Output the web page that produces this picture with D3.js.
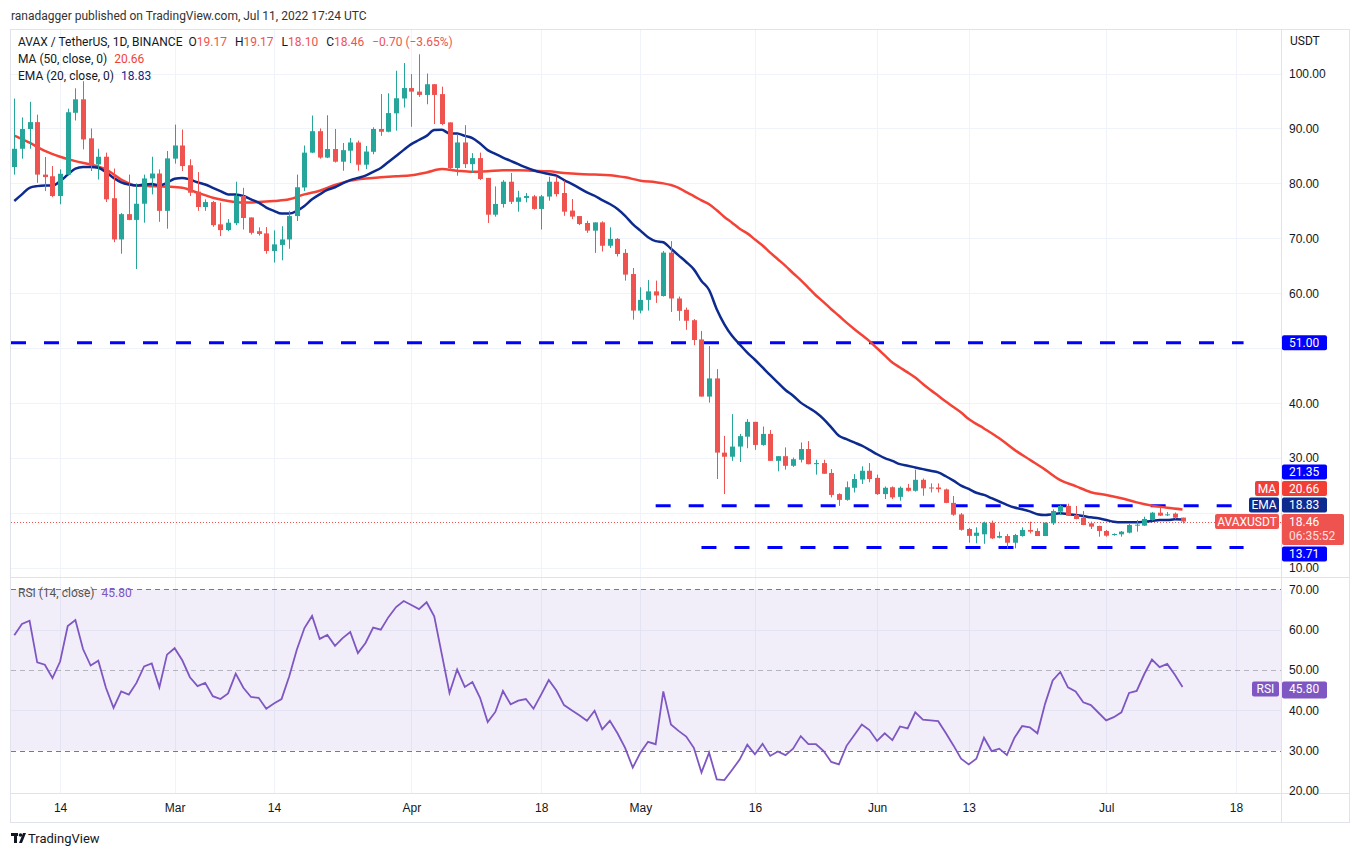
<!DOCTYPE html>
<html>
<head>
<meta charset="utf-8">
<script src="https://cdn.jsdelivr.net/npm/d3@7"></script>
<style>
body { margin: 0; background: #fff; }
svg { display: block; font-family: Roboto, "Liberation Sans", sans-serif; }
</style>
</head>
<body>
<svg id="chart" width="1359" height="856"></svg>
<script>
// daily candles AVAX/USDT, Feb 8 .. Jul 11 2022
var dates = d3.utcDay.range(new Date(Date.UTC(2022, 1, 8)), new Date(Date.UTC(2022, 6, 12)));

var open = [82.97,86.3,89.9,91.15,81.6,81.3,77.7,81.6,92.85,95.3,
88.2,83.45,84.85,77.3,69.8,74.4,73.35,76.3,80.9,81.8,
75.0,84.5,86.9,83.3,78.5,75.7,76.6,72.55,71.5,72.75,
77.7,73.8,71.3,70.9,67.7,68.8,69.8,74.05,79.25,85.6,
89.5,84.7,86.25,83.95,85.95,87.45,83.4,85.75,89.9,89.4,
92.75,95.45,97.35,96.7,96.1,98.05,96.25,91.1,82.8,87.45,
83.5,84.6,81.0,74.3,76.25,80.3,76.65,77.35,77.65,75.35,
77.6,80.3,78.25,75.05,74.05,72.8,71.4,72.9,68.65,69.9,
67.35,63.5,56.85,58.8,60.35,59.5,67.4,59.05,57.0,55.1,
51.6,41.2,44.5,31.0,30.25,32.1,33.9,36.6,32.4,34.4,
29.5,30.35,28.6,29.7,31.65,28.9,29.1,27.3,23.45,22.4,
24.6,26.1,27.7,26.4,23.45,24.7,22.95,24.6,24.05,26.05,
24.65,24.65,24.3,21.85,19.75,17.1,15.85,16.13,18.25,15.52,
15.82,14.6,15.82,16.92,16.74,15.82,18.13,20.25,21.3,19.65,
19.16,18.13,17.65,16.74,16.0,16.13,16.43,17.71,17.71,18.74,
20.07,19.65,19.9,19.17];

var high = [95.45,92.0,94.85,92.5,84.8,83.15,82.55,93.6,97.3,98.6,
90.0,86.3,85.6,82.7,74.6,81.6,80.0,81.6,84.85,82.55,
85.9,90.7,89.8,84.4,82.05,77.1,76.8,76.5,73.5,80.3,
79.2,73.8,72.0,72.05,71.45,72.2,75.0,81.6,86.9,92.35,
90.0,92.4,89.9,87.35,88.25,87.8,86.8,90.2,96.25,96.4,
100.5,101.9,99.9,103.5,100.0,98.05,97.6,91.1,89.0,90.6,
85.5,85.6,81.0,79.45,80.6,81.9,78.65,78.25,77.9,77.9,
81.2,81.25,80.5,77.15,74.05,73.2,72.9,73.1,72.0,70.05,
68.05,64.6,61.1,62.4,62.3,67.7,69.5,59.4,57.4,55.3,
53.15,50.4,46.2,34.05,38.0,34.4,37.1,36.6,35.75,35.1,
30.35,31.95,30.1,32.85,33.1,29.7,29.7,28.0,23.6,25.75,
27.1,28.5,29.1,27.0,24.85,24.85,24.85,25.3,27.9,26.3,
25.4,25.4,24.45,23.1,20.0,17.3,17.4,18.44,18.62,16.62,
16.2,16.2,17.4,18.44,17.22,18.3,20.67,21.5,21.7,21.3,
20.37,18.44,17.7,16.92,16.31,16.74,18.0,18.74,19.34,20.2,
21.0,20.2,20.1,19.17];

var low = [81.6,84.5,86.3,80.1,78.6,77.5,76.2,81.45,91.45,86.2,
82.25,80.7,76.6,69.3,67.2,73.3,64.4,72.85,78.0,73.0,
71.75,83.6,82.25,77.7,75.0,75.0,72.1,70.4,71.3,72.4,
71.6,70.7,70.5,67.2,65.6,66.0,68.1,73.15,78.6,85.5,
84.5,84.6,83.8,82.3,83.7,82.3,82.6,85.3,88.65,89.3,
89.6,93.8,90.3,95.75,94.4,90.8,90.6,82.4,81.4,82.8,
81.9,80.6,72.8,73.95,75.6,76.25,74.85,76.55,75.2,71.6,
76.85,77.6,74.1,73.5,72.4,71.0,67.35,67.6,68.25,66.7,
62.3,55.2,56.35,56.85,58.25,59.4,56.6,55.0,53.35,50.55,
41.2,40.1,26.2,23.45,29.5,29.3,31.8,31.5,32.25,29.5,
27.6,27.9,28.4,29.2,28.85,27.0,27.15,22.85,21.3,22.25,
23.75,25.3,25.6,23.3,22.55,22.55,22.25,23.9,23.9,23.15,
23.75,23.75,21.8,19.5,16.8,14.6,14.5,14.4,15.28,15.4,
13.58,13.58,15.7,16.31,15.82,15.8,17.83,19.65,19.46,18.86,
17.8,17.1,15.7,15.7,15.88,15.7,16.31,16.62,17.65,18.62,
19.46,19.46,18.9,18.10];

var close = [86.3,89.9,91.15,81.6,81.15,77.7,81.75,92.95,95.3,88.0,
83.3,84.85,77.1,69.8,74.4,73.35,76.3,80.9,81.8,75.0,
84.55,86.9,83.15,78.3,75.7,76.6,72.4,71.5,72.85,77.7,
73.7,71.0,70.8,67.7,68.9,69.8,74.05,79.3,85.6,89.5,
84.7,86.25,83.95,86.05,87.45,83.4,85.8,89.9,89.4,92.8,
95.5,97.35,96.7,96.1,98.05,96.1,90.8,82.8,87.45,83.5,
84.6,80.8,74.3,76.25,80.3,76.65,77.45,77.7,75.35,77.65,
80.3,78.05,74.85,73.95,72.6,71.4,72.9,68.65,69.9,67.15,
63.4,56.85,58.8,60.35,59.6,67.4,59.05,56.8,55.0,51.5,
41.2,44.5,31.0,30.25,32.1,34.0,36.6,32.4,34.4,29.5,
30.35,28.6,29.8,31.65,28.9,29.1,27.15,23.3,22.4,24.7,
26.2,27.7,26.2,23.45,24.6,22.85,24.6,24.05,26.05,24.5,
24.5,24.35,21.85,19.7,16.95,15.85,16.43,18.25,15.4,15.82,
14.6,16.0,16.92,16.62,15.82,18.25,20.37,21.3,19.53,18.92,
17.83,17.53,16.74,15.88,16.19,16.62,17.83,17.89,18.92,20.07,
19.53,19.77,19.16,18.46];

// EMA(20), one value per day
var ema20 = [76.8,78.0,79.2,79.5,79.6,79.6,80.4,81.6,82.7,83.0,
83.0,82.85,82.05,81.0,80.2,79.8,79.6,79.8,79.9,79.6,
80.1,80.85,81.0,80.7,80.2,79.8,79.2,78.6,78.0,78.0,
77.7,77.1,76.5,75.6,75.0,74.5,74.5,75.0,75.9,77.1,
78.0,78.8,79.3,80.0,80.6,81.0,81.4,82.1,82.8,83.9,
85.0,86.1,87.15,87.9,88.65,89.7,89.75,89.1,89.1,88.65,
88.25,87.25,86.05,85.35,84.7,84.1,83.5,82.9,82.4,82.0,
81.7,81.4,80.6,79.9,79.15,78.35,77.75,76.95,76.25,75.35,
74.1,72.6,71.4,70.2,69.5,69.3,68.1,66.9,65.7,64.35,
62.25,60.6,57.1,54.35,52.25,50.7,49.2,47.9,46.5,45.1,
43.75,42.4,41.35,40.1,39.2,38.3,37.1,35.6,34.05,33.45,
32.85,32.25,31.5,30.7,30.0,29.5,28.9,28.6,28.3,28.0,
27.7,27.4,26.7,25.9,25.0,24.4,23.7,23.3,22.7,22.1,
21.5,21.0,20.7,20.3,19.8,19.65,19.8,19.95,19.8,19.65,
19.46,19.22,19.04,18.74,18.43,18.31,18.31,18.31,18.43,18.55,
18.74,18.74,18.86,18.83];

// MA(50) at these day numbers
var maDay = [0,2,4,6,8,10,12,14,16,18,20,22,24,26,28,30,32,34,36,38,
40,42,44,46,48,50,52,54,56,58,60,62,64,66,68,70,72,74,76,78,
80,82,84,85,86,87,88,89,90,91,92,93,94,95,96,97,98,99,100,101,
102,103,104,105,106,107,108,109,110,111,112,113,114,115,116,117,118,119,120,121,
122,123,124,125,127,129,131,133,135,137,139,141,143,145,147,149,151,153];
var maValue = [88.7,87.4,85.9,84.85,84.05,83.45,82.55,80.7,79.6,79.5,79.4,79.2,78.3,77.4,76.8,76.5,76.6,76.8,77.1,78.0,
78.65,79.7,80.5,80.9,81.1,81.3,81.5,82.0,82.6,82.3,82.1,82.2,82.4,82.4,82.3,82.2,81.9,81.7,81.6,81.5,
81.1,80.5,80.2,80.0,79.7,79.2,78.4,77.7,76.9,76.2,75.1,73.9,72.85,71.75,70.9,69.8,68.7,67.4,66.2,65.0,
63.65,62.4,61.0,59.6,58.4,57.1,55.9,54.65,53.5,52.4,51.3,50.0,48.7,47.4,46.5,45.6,44.65,43.5,42.4,41.35,
40.3,39.3,38.3,37.1,35.4,33.6,31.5,29.7,27.9,26.0,24.9,23.8,23.3,22.7,21.95,21.35,20.95,20.66];

// RSI(14), one value per day
var rsi14 = [58.6,61.4,62.2,51.9,51.3,48.0,52.1,60.9,62.4,55.2,
51.1,52.3,45.6,40.6,44.7,43.9,46.8,50.9,51.6,45.7,
53.8,55.4,52.4,48.2,46.0,46.8,43.5,42.8,44.2,49.1,
45.6,43.3,43.1,40.4,41.7,42.8,48.4,55.0,60.4,63.4,
57.7,58.7,56.0,57.9,59.4,54.2,56.7,60.5,60.0,63.1,
65.6,67.1,66.1,65.1,66.8,63.3,53.8,44.3,50.1,45.8,
47.0,43.1,37.1,39.6,44.8,41.5,42.4,42.8,40.4,43.9,
47.5,44.9,41.3,40.0,38.8,37.4,39.9,35.3,37.4,34.3,
30.7,25.8,29.5,32.2,31.6,44.7,36.5,34.9,33.5,30.7,
24.6,29.5,22.9,22.7,25.2,27.8,31.5,29.1,31.7,28.7,
29.8,28.9,30.5,33.6,31.6,31.6,29.9,27.2,26.6,31.2,
33.8,36.5,35.1,32.4,34.3,32.6,36.0,35.5,39.5,37.7,
37.5,37.3,34.4,31.3,28.0,26.6,28.0,33.2,29.9,30.5,
28.9,33.2,36.1,35.8,34.3,41.6,47.4,49.5,45.7,44.7,
42.0,41.3,39.4,37.5,38.3,39.5,44.3,44.8,49.0,52.6,
50.7,51.5,48.8,45.8];

// horizontal levels drawn by the author
var levelValue = [51.00, 21.35, 13.71];
var levelFrom = ["2022-02-07", "2022-05-03", "2022-05-09"];
var levelTo = ["2022-07-19", "2022-07-19", "2022-07-19"];

var priceGrid = [10, 20, 30, 40, 50, 60, 70, 80, 90, 100];
var priceLabels = [10, 30, 40, 60, 70, 80, 90, 100];
var rsiLabels = [20, 30, 40, 50, 60, 70];
var timeTicks = ["2022-02-14","2022-03-01","2022-03-14","2022-04-01","2022-04-18","2022-05-01",
  "2022-05-16","2022-06-01","2022-06-13","2022-07-01","2022-07-18"];

var parse = d3.utcParse("%Y-%m-%d");
var n = dates.length;
var candles = dates.map(function (d, i) {
    return { date: d, o: open[i], h: high[i], l: low[i], c: close[i] };
});

var svg = d3.select("#chart");
var L = 11, R = 1281, T = 30, mainB = 577, rsiB = 793, axR = 1349, frameB = 822;
var UP = "#26a69a", DOWN = "#ef5350", TXT = "#131722";

var x = d3.scaleUtc().domain([dates[0], dates[n - 1]]).range([14.3, 1182.5]);
var y = d3.scaleLinear().domain([10, 100]).range([568, 73.5]);
var yr = d3.scaleLinear().domain([20, 70]).range([791, 589.3]);

svg.append("rect").attr("width", 1359).attr("height", 856).attr("fill", "#fff");

// header
svg.append("text").attr("x", 11).attr("y", 20).attr("font-size", 12).attr("fill", "#333")
    .text("ranadagger published on TradingView.com, Jul 11, 2022 17:24 UTC");

// grid
var grid = svg.append("g").attr("stroke", "#f0f3fa").attr("stroke-width", 1);
grid.selectAll(".gv").data(timeTicks).enter().append("line")
    .attr("x1", function (d) { return Math.round(x(parse(d))) + 0.5; })
    .attr("x2", function (d) { return Math.round(x(parse(d))) + 0.5; })
    .attr("y1", T).attr("y2", rsiB);
grid.selectAll(".gh").data(priceGrid).enter().append("line")
    .attr("x1", L).attr("x2", R)
    .attr("y1", function (d) { return Math.round(y(d)) + 0.5; })
    .attr("y2", function (d) { return Math.round(y(d)) + 0.5; });
grid.selectAll(".gr").data([40, 60]).enter().append("line")
    .attr("x1", L).attr("x2", R)
    .attr("y1", function (d) { return Math.round(yr(d)) + 0.5; })
    .attr("y2", function (d) { return Math.round(yr(d)) + 0.5; });

// RSI band
svg.append("rect").attr("x", L).attr("width", R - L)
    .attr("y", yr(70)).attr("height", yr(30) - yr(70))
    .attr("fill", "#7e57c2").attr("fill-opacity", 0.1);
svg.selectAll(".rl").data([70, 50, 30]).enter().append("line")
    .attr("x1", L).attr("x2", R)
    .attr("y1", function (d) { return Math.round(yr(d)) + 0.5; })
    .attr("y2", function (d) { return Math.round(yr(d)) + 0.5; })
    .attr("stroke", "#787b86").attr("stroke-dasharray", "5,4")
    .attr("stroke-opacity", function (d) { return d === 50 ? 0.5 : 1; });

// frame and separators
var fr = svg.append("g").attr("stroke", "#e0e3eb").attr("fill", "none");
fr.append("rect").attr("x", L - 0.5).attr("y", T - 0.5).attr("width", axR - L + 1).attr("height", frameB - T + 1);
fr.append("line").attr("x1", R + 0.5).attr("x2", R + 0.5).attr("y1", T).attr("y2", frameB);
fr.append("line").attr("x1", L).attr("x2", axR).attr("y1", mainB + 0.5).attr("y2", mainB + 0.5);
fr.append("line").attr("x1", L).attr("x2", axR).attr("y1", rsiB + 0.5).attr("y2", rsiB + 0.5);

svg.append("clipPath").attr("id", "mainclip").append("rect")
    .attr("x", L).attr("y", T).attr("width", R - L).attr("height", mainB - T);
svg.append("clipPath").attr("id", "rsiclip").append("rect")
    .attr("x", L).attr("y", mainB + 1).attr("width", R - L).attr("height", rsiB - mainB - 1);

var main = svg.append("g").attr("clip-path", "url(#mainclip)");

// levels
main.selectAll(".lvl").data(levelValue).enter().append("line")
    .attr("x1", function (d, i) { return Math.max(L, x(parse(levelFrom[i]))); })
    .attr("x2", function (d, i) { return Math.min(R, x(parse(levelTo[i]))); })
    .attr("y1", function (d) { return y(d); })
    .attr("y2", function (d) { return y(d); })
    .attr("stroke", "#0000ff").attr("stroke-width", 3).attr("stroke-dasharray", "15,18");

// current price dotted line
main.append("line").attr("x1", L).attr("x2", R)
    .attr("y1", Math.round(y(close[n - 1])) + 0.5).attr("y2", Math.round(y(close[n - 1])) + 0.5)
    .attr("stroke", DOWN).attr("stroke-dasharray", "1,2");

// moving averages
var maLine = d3.line().curve(d3.curveMonotoneX)
    .x(function (d, i) { return x(dates[maDay[i]]); })
    .y(function (d) { return y(d); });
main.append("path").datum(maValue).attr("d", maLine)
    .attr("fill", "none").attr("stroke", "#f44336").attr("stroke-width", 2.5);

var emaLine = d3.line().curve(d3.curveMonotoneX)
    .x(function (d, i) { return x(dates[i]); })
    .y(function (d) { return y(d); });
main.append("path").datum(ema20).attr("d", emaLine)
    .attr("fill", "none").attr("stroke", "#0d2a8f").attr("stroke-width", 2.5);

// candles
var cg = main.selectAll(".candle").data(candles).enter().append("g")
    .attr("fill", function (d) { return d.c >= d.o ? UP : DOWN; })
    .attr("stroke", function (d) { return d.c >= d.o ? UP : DOWN; });
cg.append("line")
    .attr("x1", function (d) { return Math.round(x(d.date)) + 0.5; })
    .attr("x2", function (d) { return Math.round(x(d.date)) + 0.5; })
    .attr("y1", function (d) { return y(d.h); })
    .attr("y2", function (d) { return y(d.l); });
cg.append("rect").attr("stroke", "none")
    .attr("x", function (d) { return Math.round(x(d.date)) - 2; })
    .attr("width", 5)
    .attr("y", function (d) { return y(Math.max(d.o, d.c)); })
    .attr("height", function (d) { return Math.max(1, Math.abs(y(d.o) - y(d.c))); });

// RSI line
svg.append("g").attr("clip-path", "url(#rsiclip)").append("path").datum(rsi14)
    .attr("d", d3.line().x(function (d, i) { return x(dates[i]); }).y(function (d) { return yr(d); }))
    .attr("fill", "none").attr("stroke", "#7e57c2").attr("stroke-width", 1.8);

// axes
var priceAxis = d3.axisRight(y).tickValues(priceLabels).tickFormat(d3.format(".2f")).tickSize(0).tickPadding(8);
svg.append("g").attr("transform", "translate(" + R + ",0)").call(priceAxis)
    .call(function (g) { g.select(".domain").remove(); })
    .selectAll("text").attr("font-size", 12).attr("fill", TXT).attr("font-family", null);

var rsiAxis = d3.axisRight(yr).tickValues(rsiLabels).tickFormat(d3.format(".2f")).tickSize(0).tickPadding(8);
svg.append("g").attr("transform", "translate(" + R + ",0)").call(rsiAxis)
    .call(function (g) { g.select(".domain").remove(); })
    .selectAll("text").attr("font-size", 12).attr("fill", TXT).attr("font-family", null);

var monthFmt = d3.utcFormat("%b");
var timeAxis = d3.axisBottom(x).tickValues(timeTicks.map(parse))
    .tickFormat(function (d) { return d.getUTCDate() === 1 ? monthFmt(d) : String(d.getUTCDate()); })
    .tickSize(0).tickPadding(10);
svg.append("g").attr("transform", "translate(0," + rsiB + ")").call(timeAxis)
    .call(function (g) { g.select(".domain").remove(); })
    .selectAll("text").attr("font-size", 12).attr("fill", TXT).attr("font-family", null);

svg.append("text").attr("x", 1290).attr("y", 45).attr("font-size", 12).attr("fill", TXT).text("USDT");

// right-hand price tags, stacked around the last price like TradingView does
var f2 = d3.format(".2f");
var last = close[n - 1];
var tagH = 15, gap = 1.5;
function tag(top, h, fill, value, name, nameW, valueW) {
    var g = svg.append("g");
    g.append("rect").attr("x", R + 1).attr("y", top).attr("width", valueW).attr("height", h)
        .attr("rx", 2).attr("fill", fill);
    g.append("text").attr("x", R + 8).attr("y", top + 11.5).attr("font-size", 12).attr("fill", "#fff").text(value);
    if (name) {
        g.append("rect").attr("x", R - 2 - nameW).attr("y", top).attr("width", nameW).attr("height", tagH)
            .attr("rx", 2).attr("fill", fill);
        g.append("text").attr("x", R - 2 - nameW / 2).attr("y", top + 11.5).attr("text-anchor", "middle")
            .attr("font-size", 12).attr("fill", "#fff").text(name);
    }
    return g;
}
var lastTop = y(last) - 7.5;
var above = [
    { v: ema20[n - 1], fill: "#0d2a8f", name: "EMA", w: 30 },
    { v: maValue[maValue.length - 1], fill: "#f23f35", name: "MA", w: 24 },
    { v: levelValue[1], fill: "#0000ff" }
];
var prevTop = lastTop;
above.forEach(function (t) {
    var top = Math.min(y(t.v) - tagH / 2, prevTop - gap - tagH);
    tag(top, tagH, t.fill, f2(t.v), t.name, t.w, 45);
    prevTop = top;
});
var belowTop = Math.max(y(levelValue[2]) - tagH / 2, lastTop + 31 + gap);
tag(belowTop, tagH, "#0000ff", f2(levelValue[2]), null, 0, 45);
tag(y(levelValue[0]) - tagH / 2, tagH, "#0000ff", f2(levelValue[0]), null, 0, 45);
var lt = tag(lastTop, 31, DOWN, f2(last), "AVAXUSDT", 64, 62);
lt.append("text").attr("x", R + 8).attr("y", lastTop + 26).attr("font-size", 12)
    .attr("fill", "#fff").attr("fill-opacity", 0.85).text("06:35:52");

// RSI tag
var rsiLast = rsi14[n - 1];
tag(yr(rsiLast) - tagH / 2 + 2, tagH + 2, "#7e57c2", f2(rsiLast), "RSI", 27, 45);

// legends
var leg = svg.append("g").attr("font-size", 12).attr("fill", TXT);
var l1 = leg.append("text").attr("x", 18).attr("y", 46);
l1.append("tspan").text("AVAX / TetherUS, 1D, BINANCE");
var ohlc = [["O", open[n - 1]], ["H", high[n - 1]], ["L", low[n - 1]], ["C", close[n - 1]]];
ohlc.forEach(function (p, i) {
    l1.append("tspan").attr("dx", i === 0 ? 6 : 8).text(p[0]);
    l1.append("tspan").attr("fill", DOWN).text(f2(p[1]));
});
var chg = close[n - 1] - close[n - 2];
l1.append("tspan").attr("dx", 8).attr("fill", DOWN)
    .text(f2(chg) + " (" + f2(chg / close[n - 2] * 100) + "%)");

var l2 = leg.append("text").attr("x", 18).attr("y", 63);
l2.append("tspan").text("MA (50, close, 0)");
l2.append("tspan").attr("dx", 7).attr("fill", "#f23f35").text(f2(maValue[maValue.length - 1]));
var l3 = leg.append("text").attr("x", 18).attr("y", 80);
l3.append("tspan").text("EMA (20, close, 0)");
l3.append("tspan").attr("dx", 7).attr("fill", "#0d2a8f").text(f2(ema20[n - 1]));
var l4 = leg.append("text").attr("x", 18).attr("y", 597);
l4.append("tspan").attr("fill", "#555").text("RSI (14, close)");
l4.append("tspan").attr("dx", 7).attr("fill", "#7e57c2").text(f2(rsiLast));

// footer logo
var logo = svg.append("g").attr("fill", TXT);
logo.append("rect").attr("x", 11).attr("y", 833).attr("width", 7).attr("height", 3);
logo.append("rect").attr("x", 14).attr("y", 833).attr("width", 3).attr("height", 10);
logo.append("circle").attr("cx", 20.5).attr("cy", 835).attr("r", 1.8);
logo.append("path").attr("d", "M23,833 L26,833 L22,843 L19,843 Z");
svg.append("text").attr("x", 28).attr("y", 843).attr("font-size", 13).attr("fill", TXT).text("TradingView");
</script>
</body>
</html>
